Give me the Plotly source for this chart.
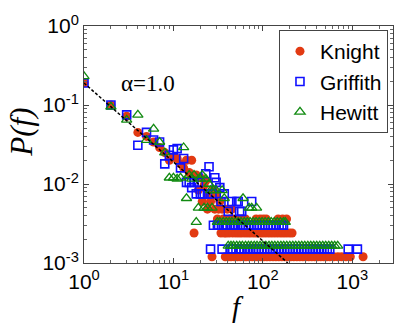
import plotly.graph_objects as go

# ---------------- data ----------------
# Knight: upper scattered part
knight_f_top = [1, 2, 3, 4, 5, 6, 7, 8, 9, 10, 11, 12, 13, 14, 15, 16, 17, 18, 19, 20,
                21, 22, 23, 24, 25, 26, 27, 28, 29, 30, 31, 32, 33, 34, 35, 36, 37, 40, 45]
knight_p_top = [0.19, 0.10, 0.072, 0.045, 0.040, 0.034, 0.029, 0.025, 0.020, 0.022,
                0.021, 0.018, 0.016, 0.020, 0.014, 0.020, 0.0024, 0.013, 0.0084, 0.012,
                0.0060, 0.0096, 0.011, 0.0048, 0.0072, 0.0060, 0.0012, 0.0084, 0.0048, 0.0072,
                0.0036, 0.0048, 0.0060, 0.0024, 0.0048, 0.0036, 0.0024, 0.0048, 0.0048]
knight_levels = [0.0012, 0.0024, 0.0036]
knight_f_level1 = [38, 41, 44, 48, 52, 56, 61, 65, 70, 76, 82, 88, 95, 103, 111, 120, 130,
                   140, 151, 163, 176, 190, 205, 222, 240, 259, 280, 302, 326, 352, 380, 411,
                   444, 479, 518, 560, 620, 690, 760, 850, 950, 1320]
knight_f_level2 = [39, 42, 46, 50, 54, 58, 63, 68, 73, 79, 85, 91, 98, 106, 115, 124, 134,
                   145, 157, 169, 182, 197, 212]
knight_f_level3 = [43, 47, 53, 59, 64, 84, 93, 101, 109, 148, 166, 184]

# Griffith
griffith_f_top = [1, 2, 3, 4, 5, 6, 7, 8, 9, 10, 11, 12, 13, 14, 15, 16, 17, 18, 19, 20,
                  21, 23, 24, 25, 26, 27, 29, 30, 33, 34, 35, 37, 41, 45, 51, 53, 55, 58, 75]
griffith_p_top = [0.19, 0.10, 0.075, 0.031, 0.045, 0.036, 0.034, 0.018, 0.023, 0.027,
                  0.028, 0.016, 0.021, 0.0105, 0.0105, 0.009, 0.0105, 0.0075, 0.0105, 0.0075,
                  0.0075, 0.0135, 0.0075, 0.0165, 0.0015, 0.0075, 0.012, 0.0105, 0.009, 0.006,
                  0.0015, 0.0075, 0.0045, 0.006, 0.006, 0.006, 0.0045, 0.0045, 0.006]
griffith_levels = [0.0015, 0.0030]
griffith_f_level1 = [44, 46, 50, 54, 57, 62, 67, 72, 78, 84, 90, 97, 104, 112, 120, 129, 139,
                     150, 161, 174, 187, 201, 216, 233, 250, 270, 290, 312, 336, 362, 390, 420,
                     452, 487, 525, 560, 900, 1140]
griffith_f_level2 = [28, 31, 32, 36, 38, 40, 43, 47, 49, 52, 56, 60, 64, 69, 74, 80, 86, 92,
                     99, 106, 114, 122, 131, 141, 152, 163, 170]

# Hewitt
hewitt_f_top = [1, 2, 3, 4, 5, 6, 7, 8, 9, 10, 11, 12, 13, 14, 15, 16, 17, 18, 19, 20,
                21, 22, 23, 24, 25, 26, 27, 28, 30, 35, 37, 60, 70, 75, 85]
hewitt_p_top = [0.23, 0.095, 0.065, 0.075, 0.036, 0.050, 0.034, 0.025, 0.012, 0.012,
                0.0116, 0.012, 0.029, 0.0066, 0.013, 0.0116, 0.013, 0.0033, 0.005, 0.0116,
                0.013, 0.005, 0.0116, 0.005, 0.010, 0.0083, 0.005, 0.0083, 0.0083, 0.0083,
                0.0066, 0.0066, 0.005, 0.005, 0.005]
hewitt_levels = [0.00165, 0.0033]
hewitt_f_level1 = [41, 44, 47, 51, 55, 59, 64, 69, 74, 80, 86, 93, 100, 108, 117, 126, 136,
                   147, 159, 171, 185, 200, 216, 233, 252, 272, 294, 318, 343, 370, 400, 432,
                   467, 504, 545, 588, 635, 686]
hewitt_f_level2 = [31, 33, 36, 39, 42, 45, 49, 53, 57, 62, 67, 72, 78, 84, 91, 98, 106, 115,
                   124, 134, 145, 157, 170, 178]

# power-law guide, alpha = 1.0
fit_f = [1, 190]
fit_p = [0.19, 0.001]

x_tickvals = [1, 10, 100, 1000]
x_ticktext = ["10<sup>0</sup>", "10<sup>1</sup>", "10<sup>2</sup>", "10<sup>3</sup>"]
y_tickvals = [0.001, 0.01, 0.1, 1]
y_ticktext = ["10<sup>-3</sup>", "10<sup>-2</sup>", "10<sup>-1</sup>", "10<sup>0</sup>"]


def build(f_top, p_top, levels, level_lists):
    xs = list(f_top)
    ys = list(p_top)
    for lv, fl in zip(levels, level_lists):
        xs += fl
        ys += [lv] * len(fl)
    return xs, ys


kx, ky = build(knight_f_top, knight_p_top, knight_levels,
               [knight_f_level1, knight_f_level2, knight_f_level3])
gx, gy = build(griffith_f_top, griffith_p_top, griffith_levels,
               [griffith_f_level1, griffith_f_level2])
hx, hy = build(hewitt_f_top, hewitt_p_top, hewitt_levels,
               [hewitt_f_level1, hewitt_f_level2])

RED = "#E23A12"
BLUE = "#1010FF"
GREEN = "#118A11"

fig = go.Figure()
fig.add_trace(go.Scatter(x=kx, y=ky, mode="markers", name="Knight",
                         marker=dict(symbol="circle", size=9, color=RED,
                                     line=dict(width=0))))
fig.add_trace(go.Scatter(x=gx, y=gy, mode="markers", name="Griffith",
                         marker=dict(symbol="square-open", size=8, color=BLUE,
                                     line=dict(width=1.6, color=BLUE))))
fig.add_trace(go.Scatter(x=hx, y=hy, mode="markers", name="Hewitt",
                         marker=dict(symbol="triangle-up-open", size=9, color=GREEN,
                                     line=dict(width=1.3, color=GREEN))))
fig.add_trace(go.Scatter(x=fit_f, y=fit_p, mode="lines", showlegend=False,
                         line=dict(color="black", width=1.5, dash="3px,2px")))

axis_common = dict(
    type="log", showgrid=False, zeroline=False, automargin=False,
    showline=True, linecolor="#444", linewidth=1, mirror="ticks",
    ticks="inside", ticklen=5, tickcolor="#444", tickwidth=1,
    minor=dict(ticks="inside", ticklen=3, tickcolor="#666", dtick="D1", showgrid=False),
    tickfont=dict(family="Arial, Liberation Sans", size=21, color="black"),
)

title_font = dict(family="Times New Roman, Liberation Serif", size=31, color="black")
f_font = dict(family="Times New Roman, Liberation Serif", size=29, color="black")

fig.update_layout(
    width=395, height=326,
    margin=dict(l=84, r=2, t=26, b=63),
    paper_bgcolor="white", plot_bgcolor="white",
    showlegend=True,
    legend=dict(x=0.631, y=0.983, xanchor="left", yanchor="top",
                bordercolor="#444", borderwidth=1, bgcolor="white",
                font=dict(family="Arial, Liberation Sans", size=21, color="black"),
                tracegroupgap=0),
    xaxis=dict(axis_common, range=[0, 3.455], tickvals=x_tickvals, ticktext=x_ticktext),
    yaxis=dict(axis_common, range=[-3, 0], tickvals=y_tickvals, ticktext=y_ticktext),
    annotations=[
        dict(x=0.72, y=-0.73, xref="x", yref="y", text="\u03b1=1.0",
             showarrow=False,
             font=dict(family="Times New Roman, Liberation Serif", size=23, color="black")),
        dict(x=0, y=0.55, xref="paper", yref="paper", xshift=-62, text="<i>P(f)</i>",
             xanchor="center", yanchor="middle",
             textangle=-90, showarrow=False, font=title_font),
        dict(x=0.498, y=0, xref="paper", yref="paper", yshift=-44, text="<i>f</i>",
             xanchor="center", yanchor="middle",
             showarrow=False, font=f_font),
    ],
)

fig.write_html("out.html",
               config={"displayModeBar": False},
               post_script="document.body.style.margin='0';"
                           "document.body.style.overflow='hidden';")
